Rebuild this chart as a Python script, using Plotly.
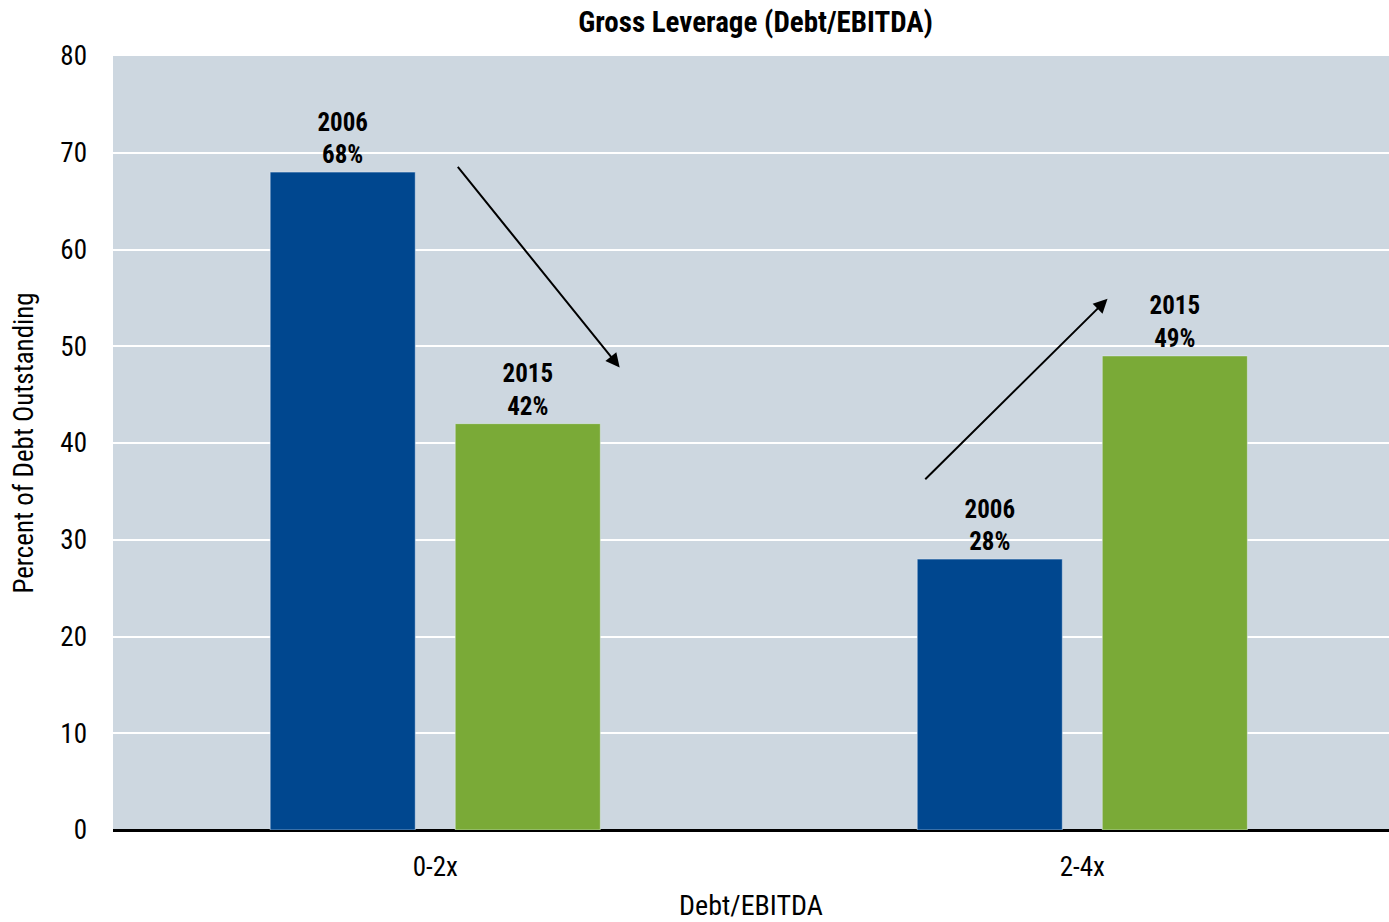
import plotly.graph_objects as go

categories = ["0-2x", "2-4x"]
values_2006 = [68, 28]
values_2015 = [42, 49]
y_ticks = [0, 10, 20, 30, 40, 50, 60, 70, 80]

FONT = "Liberation Sans Narrow, Arial Narrow, Roboto Condensed, sans-serif"
BLUE = "#00478F"
GREEN = "#7AAA37"
BG = "#CDD7E0"

fig = go.Figure()
fig.add_trace(go.Bar(
    x=categories, y=values_2006, name="2006", marker_color=BLUE,
    text=[f"<b>2006<br>{v}%</b>" for v in values_2006], textposition="outside",
    textfont=dict(family=FONT, size=25, color="black"), cliponaxis=False,
))
fig.add_trace(go.Bar(
    x=categories, y=values_2015, name="2015", marker_color=GREEN,
    text=[f"<b>2015<br>{v}%</b>" for v in values_2015], textposition="outside",
    textfont=dict(family=FONT, size=25, color="black"), cliponaxis=False,
))

# trend arrows (data coordinates)
arrows = [((0.033, 68.7), (0.285, 47.8)), ((0.755, 36.1), (1.039, 54.9))]
for (x0, y0), (x1, y1) in arrows:
    fig.add_annotation(x=x1, y=y1, ax=x0, ay=y0, xref="x", yref="y", axref="x", ayref="y",
                       showarrow=True, arrowhead=2, arrowsize=1.4, arrowwidth=2,
                       arrowcolor="black", text="")

fig.update_layout(
    width=1389, height=922,
    margin=dict(l=113, r=0, t=56, b=92),
    paper_bgcolor="white", plot_bgcolor=BG,
    barmode="group", bargap=0.428, bargroupgap=0.216,
    showlegend=False,
    font=dict(family=FONT, size=27, color="black"),
    title=dict(text="<b>Gross Leverage (Debt/EBITDA)</b>", x=0.544, xanchor="center",
               y=0.976, yanchor="middle", font=dict(family=FONT, size=29, color="black")),
)
fig.update_xaxes(
    range=[-0.498, 1.474], showgrid=False, ticks="",
    title=dict(text="Debt/EBITDA", standoff=14, font=dict(size=28)),
    tickfont=dict(size=27), ticklabelstandoff=18,
)
fig.update_yaxes(
    range=[0, 80], tickvals=y_ticks, showgrid=True, gridcolor="white", gridwidth=2,
    zeroline=True, zerolinecolor="black", zerolinewidth=3,
    title=dict(text="Percent of Debt Outstanding", standoff=18, font=dict(size=27)),
    tickfont=dict(size=27), ticklabelstandoff=25,
)

fig.write_html("out.html")
